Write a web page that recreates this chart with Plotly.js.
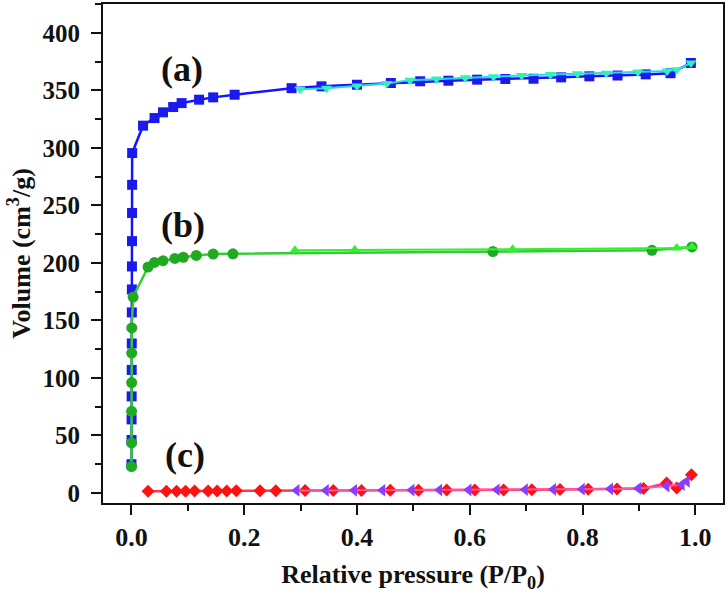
<!DOCTYPE html>
<html>
<head>
<meta charset="utf-8">
<script src="https://cdn.plot.ly/plotly-3.0.1.min.js"></script>
<style>html,body{margin:0;padding:0;background:#fff;}#chart{width:728px;height:601px;}</style>
</head>
<body>
<div id="chart"></div>
<script>
// (a) adsorption (blue squares)
const aAdsX = [0.0001,0.0002,0.0003,0.0004,0.0005,0.0006,0.0007,0.0008,0.0009,0.001,0.0011,0.0012,0.0013,
  0.0206,0.041,0.056,0.074,0.089,0.12,0.145,0.183,0.284,0.337,0.40,0.46,0.512,0.562,0.613,0.663,0.713,0.762,0.812,0.862,0.912,0.956,0.992];
const aAdsY = [25,46,64,84,107,130,157,177,197,219,243.5,268,295.6,
  319.4,326,331,335.6,339,342,344,346.3,352,353.6,355,356.5,358,358.5,359.4,360,360.2,361.4,362.3,363,364,365,373.9];
// (a) desorption (cyan triangles)
const aDesX = [0.992,0.967,0.95,0.898,0.842,0.791,0.743,0.692,0.642,0.592,0.541,0.494,0.453,0.40,0.346,0.299];
const aDesY = [373.9,368,367,366,365,364.5,364,363,362,361,360,359,356,354,352,351];
// (b) adsorption (green circles)
const bAdsX = [0.0001,0.0002,0.0003,0.0004,0.0005,0.0006,0.003,0.0295,0.041,0.056,0.077,0.092,0.115,0.145,0.18,0.641,0.923,0.994];
const bAdsY = [23,43.5,71,96,121.7,143.5,170.4,196.5,200.5,202,204,205,206.6,207.8,208,210,211,214];
// (b) desorption (green triangles)
const bDesX = [0.994,0.967,0.676,0.396,0.29];
const bDesY = [214,213,212,211.5,211];
// (c) adsorption (red diamonds)
const cAdsX = [0.0295,0.062,0.080,0.096,0.112,0.136,0.152,0.169,0.186,0.228,0.256,0.308,0.358,0.408,0.459,0.509,0.559,0.609,0.66,0.71,0.76,0.81,0.861,0.908,0.949,0.967,0.993];
const cAdsY = [1.5,1.5,1.6,1.6,1.7,1.7,1.8,1.8,1.9,2.0,2.0,2.1,2.2,2.2,2.3,2.4,2.5,2.6,2.7,2.8,3.0,3.2,3.4,3.8,8.7,4.3,15.9];
// (c) desorption (purple triangles)
const cDesX = [0.985,0.976,0.949,0.899,0.849,0.799,0.748,0.698,0.648,0.598,0.546,0.497,0.445,0.395,0.345,0.293];
const cDesY = [10,7.2,6,4,3.5,3.3,3.1,2.9,2.8,2.7,2.6,2.5,2.4,2.3,2.2,2.2];

const xTickVals = [0,0.2,0.4,0.6,0.8,1.0];
const xTickText = ['0.0','0.2','0.4','0.6','0.8','1.0'];
const yTickVals = [0,50,100,150,200,250,300,350,400];
const yTickText = ['0','50','100','150','200','250','300','350','400'];
const labels = ['(a)','(b)','(c)'];
const labelX = [0.089,0.092,0.095];
const labelY = [369,233,33];

const traces = [
  {x: aAdsX, y: aAdsY, mode:'lines+markers', line:{color:'#1414ff', width:2.5},
   marker:{symbol:'square', size:10, color:'#1a1aee'}},
  {x: aDesX, y: aDesY, mode:'lines+markers', line:{color:'#28d8e8', width:2},
   marker:{symbol:'triangle-down', size:10, color:'#33f0b8'}},
  {x: bAdsX, y: bAdsY, mode:'lines+markers', line:{color:'#33cc33', width:2.5},
   marker:{symbol:'circle', size:11, color:'#22a922'}},
  {x: bDesX, y: bDesY, mode:'lines+markers', line:{color:'#33ee33', width:2},
   marker:{symbol:'triangle-up', size:10, color:'#33f033'}},
  {x: cAdsX, y: cAdsY, mode:'lines+markers', line:{color:'#ff3355', width:2.5},
   marker:{symbol:'diamond', size:10, color:'#ff1111'}},
  {x: cDesX, y: cDesY, mode:'lines+markers', line:{color:'#ff55aa', width:2},
   marker:{symbol:'triangle-left', size:11, color:'#8a3cff'}}
];

const font = {family:'"Liberation Serif", "Times New Roman", serif', weight:'bold', color:'#111'};
const layout = {
  width:728, height:601,
  margin:{l:103, r:5, t:4, b:98},
  paper_bgcolor:'#fff', plot_bgcolor:'#fff',
  showlegend:false,
  font: Object.assign({size:26}, font),
  xaxis:{
    range:[-0.0504,1.049], tickmode:'array', tickvals:xTickVals, ticktext:xTickText,
    ticks:'outside', ticklen:10, tickwidth:2, tickcolor:'#111',
    minor:{dtick:0.1, tick0:0, ticks:'outside', ticklen:6, tickwidth:2, tickcolor:'#111'},
    showline:true, linewidth:2, linecolor:'#111', mirror:true,
    showgrid:false, zeroline:false,
    tickfont: Object.assign({size:26}, font),
    title:{text:'Relative pressure (P/P<sub>0</sub>)', font:Object.assign({size:26}, font), standoff:14}
  },
  yaxis:{
    range:[-8.7,425.2], tickmode:'array', tickvals:yTickVals, ticktext:yTickText,
    ticks:'outside', ticklen:10, tickwidth:2, tickcolor:'#111', ticklabelstandoff:6,
    minor:{dtick:25, tick0:0, ticks:'outside', ticklen:6, tickwidth:2, tickcolor:'#111'},
    showline:true, linewidth:2, linecolor:'#111', mirror:true,
    showgrid:false, zeroline:false,
    tickfont: Object.assign({size:25}, font),
    title:{text:'Volume (cm<sup>3</sup>/g)', font:Object.assign({size:26}, font), standoff:4}
  },
  annotations: labels.map((t,i)=>({x:labelX[i], y:labelY[i], xref:'x', yref:'y', text:t,
    showarrow:false, font:Object.assign({size:36}, font)}))
};
Plotly.newPlot('chart', traces, layout, {displayModeBar:false, staticPlot:true});
</script>
</body>
</html>
